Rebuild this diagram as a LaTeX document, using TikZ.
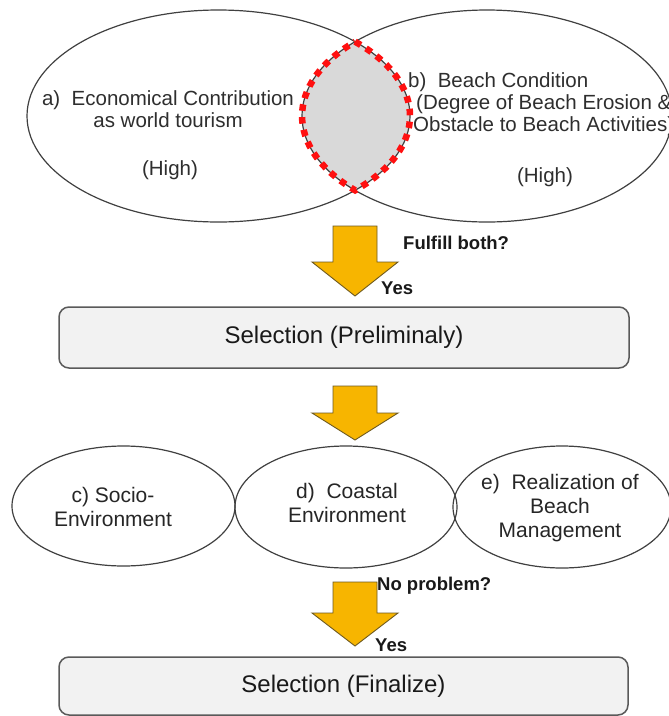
\documentclass[tikz,border=0pt]{standalone}
\usepackage{fontspec}
\setmainfont{Liberation Sans}
\usetikzlibrary{calc}

\definecolor{arrowgold}{HTML}{F7B500}
\definecolor{arrowedge}{HTML}{6E5A20}
\definecolor{edgegray}{HTML}{404040}
\definecolor{lensgray}{HTML}{D9D9D9}
\definecolor{boxfill}{HTML}{F2F2F2}
\definecolor{boxedge}{HTML}{5A5A5A}
\definecolor{txtgray}{HTML}{2E2E2E}
\definecolor{dotred}{HTML}{FF1010}

% block arrow pointing down: #1 start coordinate (top centre), #2 y of head base, #3 tip coordinate
\newcommand{\downblock}[3]{%
  \draw[blockarrow]
    ($(#1)+(-22,0)$) -- ($(#1)+(22,0)$) -- ($(#1|-0,#2)+(22,0)$) -- ($(#1|-0,#2)+(43,0)$)
    -- (#3) -- ($(#1|-0,#2)+(-43,0)$) -- ($(#1|-0,#2)+(-22,0)$) -- cycle;}

\begin{document}
\begin{tikzpicture}[x=1pt,y=-1pt,
  oval/.style={draw=edgegray, line width=1.2pt},
  blockarrow/.style={fill=arrowgold, draw=arrowedge, line width=0.9pt, line join=miter},
  stagebox/.style={draw=boxedge, fill=boxfill, line width=1.5pt, rounded corners=10pt,
    inner sep=0pt, font=\fontsize{24}{28}\selectfont, text=black!90},
  ovaltext/.style={align=center, inner sep=0pt, font=\fontsize{20.5}{22}\selectfont, text=txtgray},
  lowtext/.style={align=center, inner sep=0pt, font=\fontsize{21}{24}\selectfont, text=black!85},
  asklabel/.style={anchor=west, inner sep=0pt, font=\fontsize{18.5}{20}\selectfont\bfseries, text=black!90}]

\clip (0,0) rectangle (669,716);
\fill[white] (0,0) rectangle (669,716);

% --- two overlapping criteria ---
\coordinate (ca) at (218.5,116);
\coordinate (cb) at (487,116);

% shared region of the two ellipses
\fill[lensgray] (355.1,41.7)
  arc[start angle=-44.5, end angle=44.5, x radius=191.5, y radius=106]
  arc[start angle=135.5, end angle=224.5, x radius=185, y radius=106] -- cycle;

\draw[oval] (ca) ellipse [x radius=191.5, y radius=106];
\draw[oval] (cb) ellipse [x radius=185, y radius=106];

\draw[dotred, line width=6.5pt, dash pattern=on 6.5pt off 6.3pt] (355.1,41.7)
  arc[start angle=-44.5, end angle=44.5, x radius=191.5, y radius=106]
  arc[start angle=135.5, end angle=224.5, x radius=185, y radius=106] -- cycle;

\node[ovaltext] (ta) at (168,109) {a)\ \ Economical Contribution\\as world tourism};
\node[ovaltext] (ha) at (170,170) {(High)};
\node[ovaltext, align=left, anchor=west] (tb) at (408,104)
  {b)\ \ Beach Condition\\\hspace*{8pt}(Degree of Beach Erosion \&\\\hspace*{5pt}Obstacle to Beach Activities)};
\node[ovaltext] (hb) at (545,177) {(High)};

% --- first decision ---
\coordinate (a1s) at (355,226);
\coordinate (a1t) at (355,296);
\downblock{a1s}{262}{a1t}
\node[asklabel] (q1) at (403,243) {Fulfill both?};
\node[asklabel] (y1) at (381,288) {Yes};

\node[stagebox, minimum width=570pt, minimum height=61pt] (pre) at (344,337.5) {Selection (Preliminaly)};

% --- second stage ---
\coordinate (a2s) at (355,386);
\coordinate (a2t) at (355,440);
\downblock{a2s}{413}{a2t}

\coordinate (cc) at (123.5,506);
\coordinate (cd) at (346,507);
\coordinate (ce) at (562,507);
\draw[oval] (cc) ellipse [x radius=111.5, y radius=60];
\draw[oval] (cd) ellipse [x radius=111, y radius=61];
\draw[oval] (ce) ellipse [x radius=109, y radius=61];

\node[lowtext] (tc) at (113,507) {c) Socio-\\Environment};
\node[lowtext] (td) at (347,503) {d)\ \ Coastal\\Environment};
\node[lowtext] (te) at (560,508) {e)\ \ Realization of\\Beach\\Management};

\coordinate (a3s) at (355,582);
\coordinate (a3t) at (355,646);
\downblock{a3s}{613}{a3t}
\node[asklabel] (q2) at (377,586) {No problem?};
\node[asklabel] (y2) at (375,645) {Yes};

\node[stagebox, minimum width=569pt, minimum height=58pt] (fin) at (343.5,686) {Selection (Finalize)};

\end{tikzpicture}
\end{document}
